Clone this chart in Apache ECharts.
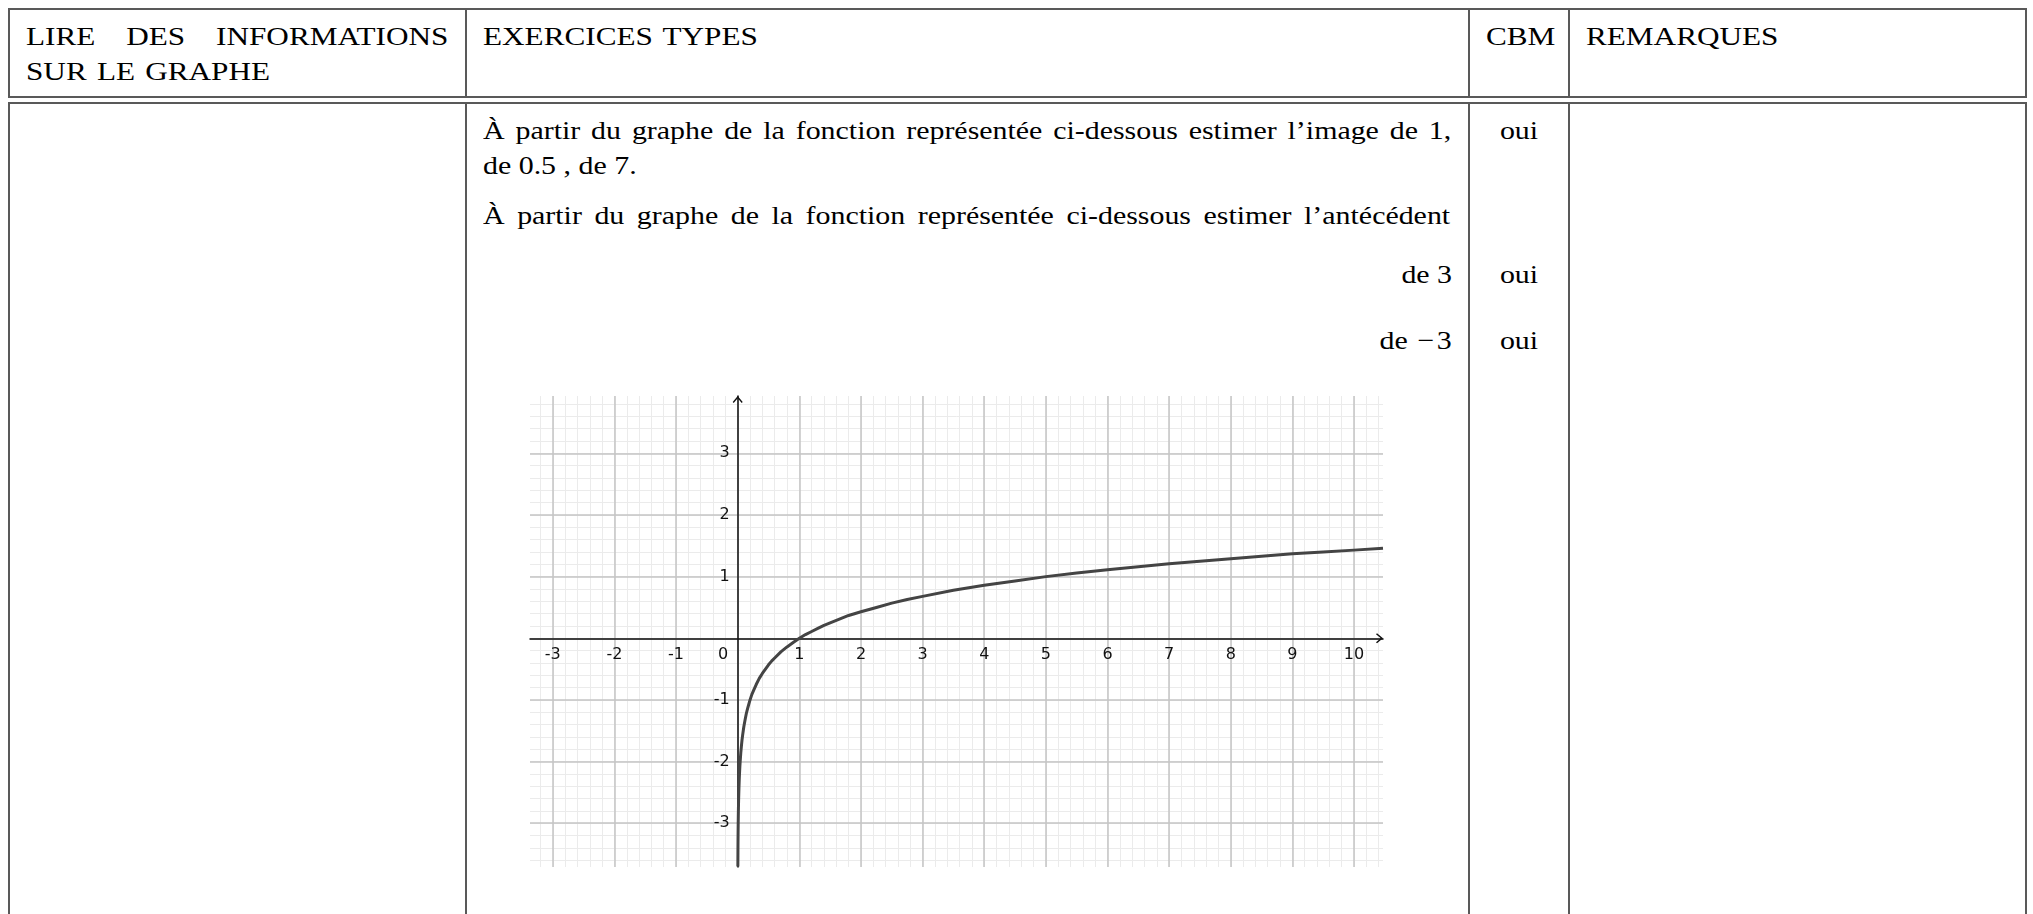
<!DOCTYPE html>
<html lang="fr">
<head>
<meta charset="utf-8">
<title>Lire des informations sur le graphe</title>
<script src="https://cdn.jsdelivr.net/npm/echarts@6/dist/echarts.min.js"></script>
<style>
  html, body { margin: 0; padding: 0; background: #fff; width: 2033px; height: 914px; overflow: hidden; }
  .box { position: absolute; border: 2px solid #595959; box-sizing: border-box; }
  .vl { position: absolute; width: 2px; background: #595959; }
  .t { position: absolute; font-family: "Liberation Serif", "Times New Roman", serif; font-size: 26px;
       line-height: 26px; color: #000; white-space: nowrap;
       transform: scaleX(1.15); transform-origin: left center; }
  .caps { transform: scaleX(1.2); word-spacing: 2px; }
  .just { text-align: justify; text-align-last: justify; white-space: normal; }
  .right { text-align: right; transform-origin: right center; }
  .center { text-align: center; transform-origin: center center; }
  .minus { margin: 0 2px 0 2px; }
  #chart { position: absolute; left: 470px; top: 380px; width: 990px; height: 520px; }
</style>
</head>
<body>
  <!-- en-tête du tableau -->
  <div class="box" style="left:8px; top:8px; width:2019px; height:90px;"></div>
  <div class="vl" style="left:465px; top:8px; height:90px;"></div>
  <div class="vl" style="left:1468px; top:8px; height:90px;"></div>
  <div class="vl" style="left:1568px; top:8px; height:90px;"></div>

  <div class="t caps just" style="left:26px; top:24px; width:352px;">LIRE DES INFORMATIONS</div>
  <div class="t caps" style="left:26px; top:59px;">SUR LE GRAPHE</div>
  <div class="t caps" style="left:483px; top:24px;">EXERCICES TYPES</div>
  <div class="t caps" style="left:1486px; top:24px;">CBM</div>
  <div class="t caps" style="left:1586px; top:24px;">REMARQUES</div>

  <!-- corps du tableau -->
  <div class="box" style="left:8px; top:102px; width:2019px; height:900px;"></div>
  <div class="vl" style="left:465px; top:102px; height:820px;"></div>
  <div class="vl" style="left:1468px; top:102px; height:820px;"></div>
  <div class="vl" style="left:1568px; top:102px; height:820px;"></div>

  <div class="t just" style="left:483px; top:117.5px; width:842px;">À partir du graphe de la fonction représentée ci-dessous estimer l’image de 1,</div>
  <div class="t" style="left:483px; top:152.5px;">de 0.5 , de 7.</div>
  <div class="t just" style="left:483px; top:203.2px; width:841px;">À partir du graphe de la fonction représentée ci-dessous estimer l’antécédent</div>
  <div class="t right" style="right:581px; top:261.5px;">de 3</div>
  <div class="t right" style="right:581px; top:327.5px;">de <span class="minus">−</span>3</div>

  <div class="t center" style="left:1469px; top:117.5px; width:100px;">oui</div>
  <div class="t center" style="left:1469px; top:261.5px; width:100px;">oui</div>
  <div class="t center" style="left:1469px; top:327.5px; width:100px;">oui</div>

  <div id="chart"></div>

<script>
// Points (abscisse, ordonnée)
const curveX = [0.0026, 0.003, 0.004, 0.005, 0.006, 0.008, 0.01, 0.012, 0.015, 0.02,
                0.025, 0.03, 0.035, 0.04, 0.05, 0.06, 0.07, 0.08, 0.09, 0.1,
                0.12, 0.14, 0.16, 0.18, 0.2, 0.23, 0.26, 0.3, 0.35, 0.4,
                0.45, 0.5, 0.55, 0.6, 0.7, 0.8, 0.9, 1, 1.1, 1.2,
                1.3, 1.4, 1.5, 1.6, 1.8, 2, 2.25, 2.5, 2.75, 3,
                3.5, 4, 4.5, 5, 5.5, 6, 6.5, 7, 7.5, 8,
                8.5, 9, 9.5, 10, 10.47];
const curveY = [-3.70, -3.61, -3.43, -3.29, -3.18, -3.00, -2.86, -2.75, -2.61, -2.43,
                -2.29, -2.18, -2.08, -2.00, -1.86, -1.75, -1.65, -1.57, -1.50, -1.43,
                -1.32, -1.22, -1.14, -1.07, -1.00, -0.91, -0.84, -0.75, -0.65, -0.57,
                -0.50, -0.43, -0.37, -0.32, -0.22, -0.14, -0.07, 0, 0.06, 0.11,
                0.16, 0.21, 0.25, 0.29, 0.37, 0.43, 0.50, 0.57, 0.63, 0.68,
                0.78, 0.86, 0.93, 1.00, 1.06, 1.11, 1.16, 1.21, 1.25, 1.29,
                1.33, 1.37, 1.40, 1.43, 1.46];

// Fenêtre du repère
const xRange = [-3.37, 10.47];
const yRange = [-3.71, 3.93];

// Graduations affichées
const xTickValues = [-3, -2, -1, 0, 1, 2, 3, 4, 5, 6, 7, 8, 9, 10];
const yTickValues = [-3, -2, -1, 1, 2, 3];

const GRID = { left: 60, top: 16, width: 853, height: 471 };

function tickText(v) {
  return v < 0 ? '-' + (-v) : String(v);
}
function xLabel(v) {
  const k = Math.round(v);
  if (Math.abs(v - k) > 1e-6 || xTickValues.indexOf(k) < 0) return '';
  return k === 0 ? '{zero|0}' : tickText(k);
}
function yLabel(v) {
  const k = Math.round(v);
  if (Math.abs(v - k) > 1e-6 || yTickValues.indexOf(k) < 0) return '';
  return tickText(k);
}

const labelFont = { fontFamily: 'DejaVu Sans', fontSize: 16, color: '#111' };
const majorLine = { show: true, showMinLine: false, showMaxLine: false,
                    lineStyle: { color: '#c4c4c4', width: 1.5 } };
const minorLine = { show: true, showMinLine: false, showMaxLine: false,
                    lineStyle: { color: '#ebebeb', width: 1 } };
const chevron = 'path://M5,0L10,6L9,7L5,2.2L1,7L0,6Z';
const axisLineStyle = { color: '#111', width: 1.5 };

const chart = echarts.init(document.getElementById('chart'), null, { renderer: 'canvas' });
chart.setOption({
  animation: false,
  backgroundColor: 'transparent',
  grid: Object.assign({ outerBoundsMode: 'none', containLabel: false }, GRID),
  xAxis: [
    {
      type: 'value', min: xRange[0], max: xRange[1], splitNumber: 14, z: 2, position: 'bottom',
      axisLine: { show: true, onZero: false,
                  symbol: ['none', chevron], symbolSize: [10, 7], symbolOffset: [0, -3.5],
                  lineStyle: axisLineStyle },
      axisTick: { show: false },
      axisLabel: Object.assign({ margin: 9, formatter: xLabel,
        rich: { zero: Object.assign({ padding: [0, 29, 0, 0] }, labelFont) } }, labelFont),
      splitLine: majorLine
    },
    {
      type: 'value', min: xRange[0], max: xRange[1], splitNumber: 70, z: 1, position: 'top',
      axisLine: { show: false, onZero: false }, axisTick: { show: false }, axisLabel: { show: false },
      splitLine: minorLine
    }
  ],
  yAxis: [
    {
      type: 'value', min: yRange[0], max: yRange[1], splitNumber: 8, z: 2, position: 'left',
      axisLine: { show: true, onZero: false,
                  symbol: ['none', chevron], symbolSize: [10, 7], symbolOffset: [0, -3.5],
                  lineStyle: axisLineStyle },
      axisTick: { show: false },
      axisLabel: Object.assign({ margin: 8, formatter: yLabel }, labelFont),
      splitLine: majorLine
    },
    {
      type: 'value', min: yRange[0], max: yRange[1], splitNumber: 38, z: 1, position: 'right',
      axisLine: { show: false, onZero: false }, axisTick: { show: false }, axisLabel: { show: false },
      splitLine: minorLine
    }
  ],
  series: [{
    type: 'line',
    xAxisIndex: 0, yAxisIndex: 0,
    data: curveX.map((x, i) => [x, curveY[i]]),
    showSymbol: false,
    smooth: false,
    clip: true,
    lineStyle: { color: '#444', width: 3, join: 'round' },
    z: 5
  }]
});

// Place both axes (line and labels) through the origin
const originY = chart.convertToPixel({ yAxisIndex: 0 }, 0);
const originX = chart.convertToPixel({ xAxisIndex: 0 }, 0);
chart.setOption({
  xAxis: [{ offset: -(GRID.top + GRID.height - originY) }, {}],
  yAxis: [{ offset: -(originX - GRID.left) }, {}]
});
</script>
</body>
</html>
